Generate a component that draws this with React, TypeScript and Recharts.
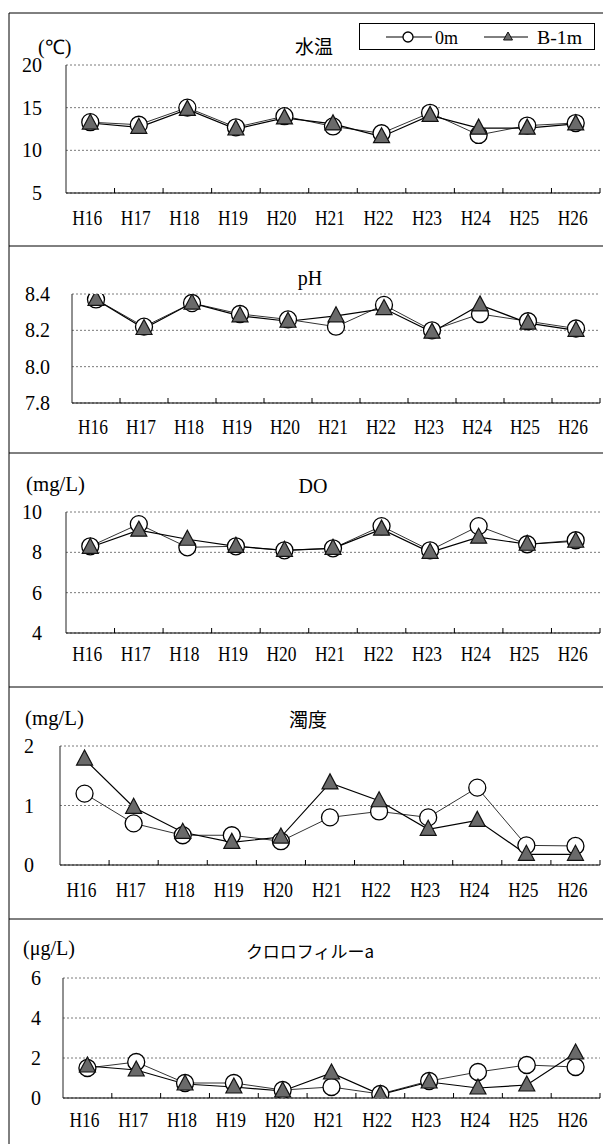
import React from 'react';
import { LineChart, Line, XAxis, YAxis, CartesianGrid } from 'recharts';

const categories = ['H16', 'H17', 'H18', 'H19', 'H20', 'H21', 'H22', 'H23', 'H24', 'H25', 'H26'];

const tempSurface = [13.3, 13.0, 15.0, 12.7, 14.0, 12.8, 12.0, 14.4, 11.8, 12.9, 13.2];
const tempB1 = [13.2, 12.7, 14.8, 12.5, 13.8, 13.1, 11.6, 14.1, 12.6, 12.6, 13.1];
const tempTicks = [5, 10, 15, 20];

const phSurface = [8.37, 8.22, 8.35, 8.29, 8.26, 8.22, 8.34, 8.2, 8.29, 8.25, 8.21];
const phB1 = [8.37, 8.21, 8.35, 8.28, 8.25, 8.28, 8.32, 8.19, 8.34, 8.24, 8.2];
const phTicks = [7.8, 8.0, 8.2, 8.4];

const doSurface = [8.3, 9.4, 8.25, 8.3, 8.1, 8.2, 9.3, 8.1, 9.3, 8.4, 8.6];
const doB1 = [8.25, 9.1, 8.65, 8.3, 8.1, 8.2, 9.15, 8.0, 8.75, 8.4, 8.55];
const doTicks = [4, 6, 8, 10];

const turbSurface = [1.2, 0.7, 0.5, 0.5, 0.4, 0.8, 0.9, 0.8, 1.3, 0.33, 0.32];
const turbB1 = [1.78, 0.97, 0.55, 0.38, 0.47, 1.38, 1.08, 0.6, 0.75, 0.18, 0.18];
const turbTicks = [0, 1, 2];

const chlSurface = [1.5, 1.8, 0.75, 0.75, 0.4, 0.55, 0.2, 0.85, 1.3, 1.65, 1.55];
const chlB1 = [1.6, 1.4, 0.7, 0.55, 0.35, 1.25, 0.17, 0.8, 0.5, 0.65, 2.25];
const chlTicks = [0, 2, 4, 6];

const seriesNames = ['0m', 'B-1m'];

const SERIF = 'Liberation Serif';
const CJK = 'Noto Sans CJK JP';

function buildRows(a: number[], b: number[]) {
  return categories.map((c, i) => ({ cat: c, s: a[i], b: b[i] }));
}

const XTick = (props: any) => {
  const { x, y, payload, labelDy } = props;
  const off = payload && typeof payload.offset === 'number' ? payload.offset : 0;
  return (
    <g>
      <line x1={x + off} x2={x + off} y1={y} y2={y - 5} stroke="#000" strokeWidth={1} />
      <text
        x={x - 3}
        y={y + labelDy}
        textAnchor="middle"
        fontFamily={SERIF}
        fontSize={21}
        textLength={30}
        lengthAdjust="spacingAndGlyphs"
        fill="#000"
      >
        {payload.value}
      </text>
    </g>
  );
};

const YTick = (props: any) => {
  const { x, y, payload, fmt } = props;
  const label = fmt ? fmt(payload.value) : String(payload.value);
  return (
    <text x={x} y={y + 7} textAnchor="end" fontFamily={SERIF} fontSize={20} fill="#000">
      {label}
    </text>
  );
};

const CircleDot = (p: any) => {
  if (p.cx == null || p.cy == null) return null;
  return <circle key={`c${p.index}`} cx={p.cx} cy={p.cy} r={8.5} fill="#fff" stroke="#000" strokeWidth={1.3} />;
};

const TriDot = (p: any) => {
  if (p.cx == null || p.cy == null) return null;
  const { cx, cy } = p;
  return (
    <path
      key={`t${p.index}`}
      d={`M${cx},${cy - 9} L${cx + 8},${cy + 6} L${cx - 8},${cy + 6} Z`}
      fill="#6a6a6a"
      stroke="#111"
      strokeWidth={1.2}
    />
  );
};

type PanelProps = {
  top: number;
  height: number;
  plotTop: number;
  plotLeft: number;
  bottomGap: number;
  ticks: number[];
  data: any[];
  fmt?: (v: number) => string;
  yMargin: number;
  labelDy: number;
};

function Panel({ top, height, plotTop, plotLeft, bottomGap, ticks, data, fmt, yMargin, labelDy }: PanelProps) {
  const xAxisH = 40;
  return (
    <div style={{ position: 'absolute', left: 0, top, width: 603, height }}>
      <LineChart
        width={603}
        height={height}
        data={data}
        margin={{ top: plotTop, right: 3, bottom: bottomGap - xAxisH, left: 0 }}
      >
        <CartesianGrid vertical={false} stroke="#7a7a7a" strokeDasharray="2 2" />
        <XAxis
          dataKey="cat"
          scale="band"
          interval={0}
          height={xAxisH}
          tickSize={0}
          tickMargin={0}
          tickLine={false}
          axisLine={{ stroke: '#000', strokeWidth: 1 }}
          tick={<XTick labelDy={labelDy} />}
        />
        <YAxis
          type="number"
          domain={[ticks[0], ticks[ticks.length - 1]]}
          ticks={ticks}
          allowDataOverflow
          width={plotLeft}
          tickSize={0}
          tickMargin={yMargin}
          tickLine={false}
          axisLine={{ stroke: '#222', strokeWidth: 1 }}
          tick={<YTick fmt={fmt} />}
        />
        <Line
          dataKey="s"
          name={seriesNames[0]}
          stroke="#333"
          strokeWidth={1}
          dot={<CircleDot />}
          activeDot={false}
          isAnimationActive={false}
        />
        <Line
          dataKey="b"
          name={seriesNames[1]}
          stroke="#000"
          strokeWidth={1.2}
          dot={<TriDot />}
          activeDot={false}
          isAnimationActive={false}
        />
      </LineChart>
    </div>
  );
}

export default function App() {
  const dividers = [246, 453, 687, 919];
  return (
    <div style={{ position: 'absolute', left: 0, top: 0, width: 603, height: 1144, background: '#fff', overflow: 'hidden' }}>
      <Panel top={13} height={233} plotTop={52} plotLeft={66} bottomGap={53} ticks={tempTicks}
        data={buildRows(tempSurface, tempB1)} yMargin={24} labelDy={32} />
      <Panel top={246} height={207} plotTop={48} plotLeft={72} bottomGap={50} ticks={phTicks}
        data={buildRows(phSurface, phB1)} fmt={(v) => v.toFixed(1)} yMargin={22} labelDy={31} />
      <Panel top={453} height={234} plotTop={59} plotLeft={66} bottomGap={54} ticks={doTicks}
        data={buildRows(doSurface, doB1)} yMargin={24} labelDy={28} />
      <Panel top={687} height={232} plotTop={59} plotLeft={60} bottomGap={54} ticks={turbTicks}
        data={buildRows(turbSurface, turbB1)} yMargin={26} labelDy={32} />
      <Panel top={919} height={225} plotTop={59} plotLeft={63} bottomGap={46} ticks={chlTicks}
        data={buildRows(chlSurface, chlB1)} yMargin={22} labelDy={29} />

      <svg width={603} height={1144} style={{ position: 'absolute', left: 0, top: 0, pointerEvents: 'none' }}>
        <line x1={9} x2={603} y1={13} y2={13} stroke="#000" strokeWidth={1} />
        <line x1={9} x2={9} y1={13} y2={1144} stroke="#000" strokeWidth={1} />
        {dividers.map((y) => (
          <line key={y} x1={9} x2={603} y1={y} y2={y} stroke="#000" strokeWidth={1} />
        ))}

        <text x={38} y={54} fontSize={20} fontFamily={SERIF} fill="#000">(℃)</text>
        <text x={314} y={54} fontSize={19} fontFamily={CJK} textAnchor="middle" fill="#000">水温</text>

        <text x={310} y={285} fontSize={20} fontFamily={SERIF} textAnchor="middle" fill="#000">pH</text>

        <text x={26} y={491} fontSize={20} fontFamily={SERIF} textLength={59} lengthAdjust="spacingAndGlyphs" fill="#000">(mg/L)</text>
        <text x={313} y={493} fontSize={20} fontFamily={SERIF} textAnchor="middle" fill="#000">DO</text>

        <text x={25} y={725} fontSize={20} fontFamily={SERIF} textLength={59} lengthAdjust="spacingAndGlyphs" fill="#000">(mg/L)</text>
        <text x={308} y={727} fontSize={19} fontFamily={CJK} textAnchor="middle" fill="#000">濁度</text>

        <text x={23} y={955} fontSize={20} fontFamily={SERIF} fill="#000">(μg/L)</text>
        <text x={310} y={958} fontSize={17} fontFamily={CJK} textAnchor="middle" fill="#000">クロロフィルーa</text>

        <g>
          <rect x={359.5} y={23.5} width={235} height={26} fill="#fff" stroke="#000" strokeWidth={1} />
          <line x1={386} x2={432} y1={37} y2={37} stroke="#000" strokeWidth={1} />
          <circle cx={408} cy={37} r={5} fill="#fff" stroke="#000" strokeWidth={1.3} />
          <text x={435} y={43.5} fontSize={19} fontFamily={SERIF} textLength={23} lengthAdjust="spacingAndGlyphs" fill="#000">{seriesNames[0]}</text>
          <line x1={484} x2={528} y1={37} y2={37} stroke="#000" strokeWidth={1} />
          <path d="M508,32 L512.5,40 L503.5,40 Z" fill="#6a6a6a" stroke="#111" strokeWidth={1} />
          <text x={537} y={43.5} fontSize={19} fontFamily={SERIF} textLength={45} lengthAdjust="spacingAndGlyphs" fill="#000">{seriesNames[1]}</text>
        </g>
      </svg>
    </div>
  );
}
